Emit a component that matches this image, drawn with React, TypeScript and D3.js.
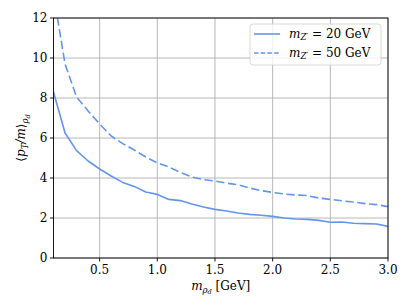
import React from "react";
import * as d3 from "d3";

// m_rho_d values [GeV]
const masses = [0.1, 0.2, 0.3, 0.4, 0.5, 0.6, 0.7, 0.8, 0.9, 1.0,
  1.1, 1.2, 1.3, 1.4, 1.5, 1.6, 1.7, 1.8, 1.9, 2.0,
  2.1, 2.2, 2.3, 2.4, 2.5, 2.6, 2.7, 2.8, 2.9, 3.0];
// <pT/m> for m_Z' = 20 GeV
const ptm20 = [8.3, 6.25, 5.37, 4.85, 4.45, 4.1, 3.78, 3.58, 3.3, 3.18,
  2.93, 2.87, 2.7, 2.55, 2.43, 2.35, 2.25, 2.18, 2.14, 2.08,
  2.0, 1.95, 1.93, 1.88, 1.79, 1.8, 1.74, 1.72, 1.7, 1.58];
// <pT/m> for m_Z' = 50 GeV
const ptm50 = [13.2, 9.7, 8.05, 7.35, 6.7, 6.1, 5.72, 5.4, 5.05, 4.75,
  4.55, 4.28, 4.05, 3.92, 3.85, 3.74, 3.66, 3.5, 3.37, 3.28,
  3.2, 3.15, 3.12, 3.0, 2.93, 2.86, 2.8, 2.72, 2.67, 2.57];
const xTicks = [0.5, 1.0, 1.5, 2.0, 2.5, 3.0];
const yTicks = [0, 2, 4, 6, 8, 10, 12];

const W = 411;
const H = 308;
const L = 53.5, R = 388, T = 18, B = 258;
const col = "#6495ED";
const serif = "'DejaVu Serif', serif";

export default function App() {
  const x = d3.scaleLinear().domain([0.1, 3.0]).range([L, R]);
  const y = d3.scaleLinear().domain([0, 12]).range([B, T]);
  const line = d3.line<number>()
    .x((_, i) => x(masses[i]))
    .y((d) => y(d));

  return (
    <svg width={W} height={H} style={{ position: "absolute", left: 0, top: 0, background: "#fff" }}
      fontFamily={serif}>
      <defs>
        <clipPath id="plot">
          <rect x={L} y={T} width={R - L} height={B - T} />
        </clipPath>
      </defs>
      {/* grid */}
      {xTicks.map((t) => (
        <line key={"gx" + t} x1={x(t)} x2={x(t)} y1={T} y2={B} stroke="#b0b0b0" strokeWidth={0.9} />
      ))}
      {yTicks.map((t) => (
        <line key={"gy" + t} x1={L} x2={R} y1={y(t)} y2={y(t)} stroke="#b0b0b0" strokeWidth={0.9} />
      ))}
      <g clipPath="url(#plot)">
        <path d={line(ptm20) || ""} fill="none" stroke={col} strokeWidth={1.6} strokeLinejoin="round" />
        <path d={line(ptm50) || ""} fill="none" stroke={col} strokeWidth={1.6} strokeDasharray="8.3 3.6" />
      </g>
      {/* spines */}
      <rect x={L} y={T} width={R - L} height={B - T} fill="none" stroke="#000" strokeWidth={0.9} />
      {xTicks.map((t) => (
        <g key={"tx" + t}>
          <line x1={x(t)} x2={x(t)} y1={B} y2={B + 3.5} stroke="#000" strokeWidth={0.9} />
          <text x={x(t)} y={B + 16} fontSize={12} textAnchor="middle">{t.toFixed(1)}</text>
        </g>
      ))}
      {yTicks.map((t) => (
        <g key={"ty" + t}>
          <line x1={L - 3.5} x2={L} y1={y(t)} y2={y(t)} stroke="#000" strokeWidth={0.9} />
          <text x={L - 6} y={y(t) + 4.3} fontSize={12} textAnchor="end">{t}</text>
        </g>
      ))}
      {/* axis labels */}
      <text x={(L + R) / 2} y={290} fontSize={12} textAnchor="middle">
        <tspan fontStyle="italic">m</tspan>
        <tspan fontStyle="italic" fontSize={8.5} dy={2.5}>ρ</tspan>
        <tspan fontStyle="italic" fontSize={6.5} dy={1.5}>d</tspan>
        <tspan dy={-4}> [GeV]</tspan>
      </text>
      <text transform={`translate(25,${(T + B) / 2}) rotate(-90)`} fontSize={12} textAnchor="middle">
        <tspan>⟨</tspan>
        <tspan fontStyle="italic">p</tspan>
        <tspan fontStyle="italic" fontSize={8.5} dy={2.5}>T</tspan>
        <tspan fontStyle="italic" dy={-2.5}>/m</tspan>
        <tspan>⟩</tspan>
        <tspan fontStyle="italic" fontSize={8.5} dy={3}>ρ</tspan>
        <tspan fontStyle="italic" fontSize={6.5} dy={1.5}>d</tspan>
      </text>
      {/* legend */}
      <rect x={250} y={24} width={131} height={41} rx={3} fill="#fff" fillOpacity={0.8} stroke="#d0d0d0" strokeWidth={0.8} />
      {[{ label: "20", dash: "none", yy: 34 }, { label: "50", dash: "4.5 2.2", yy: 53 }].map((e) => (
        <g key={e.label}>
          <line x1={254} x2={280} y1={e.yy} y2={e.yy} stroke={col} strokeWidth={1.6} strokeDasharray={e.dash} />
          <text x={289} y={e.yy + 4} fontSize={12}>
            <tspan fontStyle="italic">m</tspan>
            <tspan fontStyle="italic" fontSize={8.5} dy={2}>Z′</tspan>
            <tspan dy={-2}> = {e.label} GeV</tspan>
          </text>
        </g>
      ))}
    </svg>
  );
}
